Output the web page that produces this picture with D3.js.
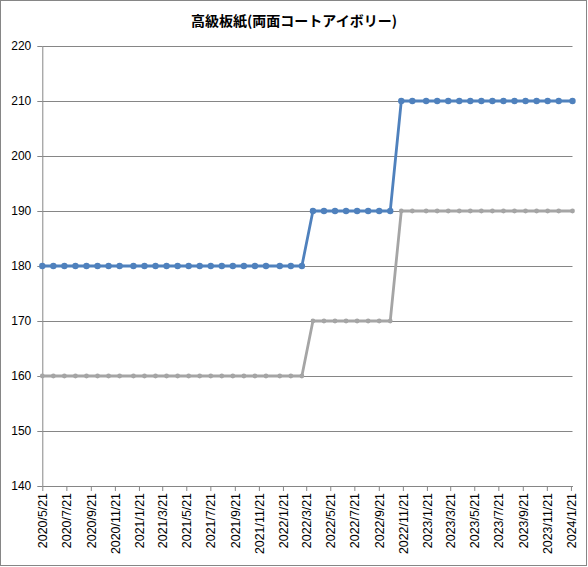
<!DOCTYPE html>
<html>
<head>
<meta charset="utf-8">
<script src="https://cdn.jsdelivr.net/npm/d3@7"></script>
<style>
  body { margin: 0; background: #fff; }
  #wrapper { width: 588px; height: 567px; }
</style>
</head>
<body>
<div id="wrapper"></div>
<script>
// dados (uma coleta a cada 4 ou 5 semanas)
const dates = [
  "2020-05-21", "2020-06-18", "2020-07-16", "2020-08-13", "2020-09-10", "2020-10-08",
  "2020-11-05", "2020-12-03", "2021-01-07", "2021-02-04", "2021-03-04", "2021-04-01",
  "2021-04-29", "2021-05-27", "2021-06-24", "2021-07-22", "2021-08-19", "2021-09-16",
  "2021-10-14", "2021-11-11", "2021-12-09", "2022-01-13", "2022-02-10", "2022-03-10",
  "2022-04-07", "2022-05-05", "2022-06-02", "2022-06-30", "2022-07-28", "2022-08-25",
  "2022-09-22", "2022-10-20", "2022-11-17", "2022-12-15", "2023-01-19", "2023-02-16",
  "2023-03-16", "2023-04-13", "2023-05-11", "2023-06-08", "2023-07-06", "2023-08-03",
  "2023-08-31", "2023-09-28", "2023-10-26", "2023-11-23", "2023-12-21", "2024-01-25"
]

const blueValues = [
  180, 180, 180, 180, 180, 180, 180, 180, 180, 180, 180, 180,
  180, 180, 180, 180, 180, 180, 180, 180, 180, 180, 180, 180,
  190, 190, 190, 190, 190, 190, 190, 190,
  210, 210, 210, 210, 210, 210, 210, 210, 210, 210, 210, 210, 210, 210, 210, 210
]

const grayValues = [
  160, 160, 160, 160, 160, 160, 160, 160, 160, 160, 160, 160,
  160, 160, 160, 160, 160, 160, 160, 160, 160, 160, 160, 160,
  170, 170, 170, 170, 170, 170, 170, 170,
  190, 190, 190, 190, 190, 190, 190, 190, 190, 190, 190, 190, 190, 190, 190, 190
]

const xTickLabels = [
  "2020/5/21", "2020/7/21", "2020/9/21", "2020/11/21", "2021/1/21", "2021/3/21",
  "2021/5/21", "2021/7/21", "2021/9/21", "2021/11/21", "2022/1/21", "2022/3/21",
  "2022/5/21", "2022/7/21", "2022/9/21", "2022/11/21", "2023/1/21", "2023/3/21",
  "2023/5/21", "2023/7/21", "2023/9/21", "2023/11/21", "2024/1/21"
]

const yTicks = [140, 150, 160, 170, 180, 190, 200, 210, 220]

const title = "高級板紙(両面コートアイボリー)"

function drawChart() {
    const dimensions = {
        width: 588,
        height: 567,
        margin: { top: 46, right: 15.5, bottom: 81, left: 42.3 },
    }
    dimensions.boundedWidth = dimensions.width - dimensions.margin.left - dimensions.margin.right
    dimensions.boundedHeight = dimensions.height - dimensions.margin.top - dimensions.margin.bottom

    const parseDate = d3.timeParse("%Y-%m-%d")
    const parseTick = d3.timeParse("%Y/%m/%d")
    const series = [
        { color: "#4f81bd", r: 3.2, values: blueValues },
        { color: "#a5a5a5", r: 2.4, values: grayValues },
    ].map(s => ({ ...s, points: dates.map((d, i) => ({ date: parseDate(d), value: s.values[i] })) }))

    const svg = d3.select("#wrapper")
        .append("svg")
            .attr("width", dimensions.width)
            .attr("height", dimensions.height)

    // borda do gráfico
    svg.append("rect")
        .attr("x", 0.5).attr("y", 0.5)
        .attr("width", dimensions.width - 2).attr("height", dimensions.height - 2)
        .attr("fill", "#fff")
        .attr("stroke", "#868686")

    svg.append("text")
        .attr("x", 294)
        .attr("y", 26)
        .attr("text-anchor", "middle")
        .style("font-family", "'Noto Sans CJK JP'")
        .style("font-weight", "bold")
        .style("font-size", "14px")
        .text(title)

    const bounds = svg.append("g")
        .attr("transform", `translate(${dimensions.margin.left},${dimensions.margin.top})`)

    const xScale = d3.scaleTime()
        .domain(d3.extent(series[0].points, d => d.date))
        .range([0, dimensions.boundedWidth])

    const yScale = d3.scaleLinear()
        .domain([140, 220])
        .range([dimensions.boundedHeight, 0])

    // linhas de grade
    bounds.append("g")
        .selectAll("line")
        .data(yTicks.slice(1))
        .join("line")
            .attr("x1", 0)
            .attr("x2", dimensions.boundedWidth)
            .attr("y1", d => Math.round(yScale(d)) + 0.5)
            .attr("y2", d => Math.round(yScale(d)) + 0.5)
            .attr("stroke", "#868686")

    const yAxis = bounds.append("g")
        .call(d3.axisLeft(yScale).tickValues(yTicks).tickSize(5).tickPadding(6).tickSizeOuter(0))
    yAxis.select(".domain").attr("stroke", "#868686")
    yAxis.selectAll(".tick line").attr("stroke", "#868686")
    yAxis.selectAll(".tick text")
        .style("font-family", "'Liberation Sans'")
        .style("font-size", "12px")
        .attr("fill", "#000")

    const xAxis = bounds.append("g")
        .attr("transform", `translate(0,${dimensions.boundedHeight})`)
        .call(d3.axisBottom(xScale)
            .tickValues(xTickLabels.map(parseTick))
            .tickFormat(d3.timeFormat("%Y/%-m/%-d"))
            .tickSize(5)
            .tickSizeOuter(0))
    xAxis.select(".domain").attr("stroke", "#868686")
    xAxis.selectAll(".tick line").attr("stroke", "#868686")
    xAxis.selectAll(".tick text")
        .attr("transform", "rotate(-90)")
        .attr("x", -7)
        .attr("y", 0)
        .attr("dy", "0.35em")
        .attr("text-anchor", "end")
        .style("font-family", "'Liberation Sans'")
        .style("font-size", "12.4px")
        .attr("fill", "#000")

    const lineGenerator = d3.line()
        .x(d => xScale(d.date))
        .y(d => yScale(d.value))

    series.slice().reverse().forEach(s => {
        const g = bounds.append("g")
        g.append("path")
            .attr("d", lineGenerator(s.points))
            .attr("fill", "none")
            .attr("stroke", s.color)
            .attr("stroke-width", 2.8)
            .attr("stroke-linejoin", "round")
        g.selectAll("circle")
            .data(s.points)
            .join("circle")
                .attr("cx", d => xScale(d.date))
                .attr("cy", d => yScale(d.value))
                .attr("r", s.r)
                .attr("fill", s.color)
    })
}

drawChart()
</script>
</body>
</html>
